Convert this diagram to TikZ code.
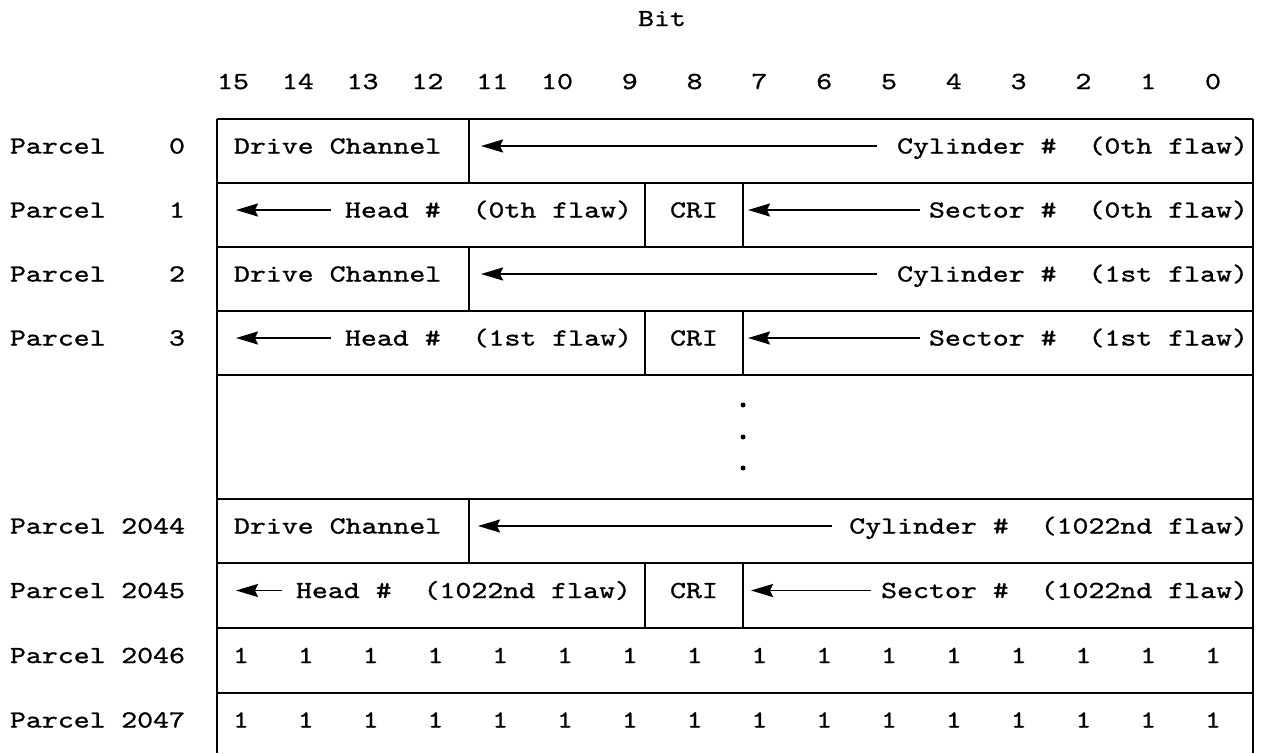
\documentclass[tikz,border=0pt]{standalone}
\usepackage{fontspec}
\newfontfamily\tw{lmmono10-regular.otf}[FakeStretch=1.24,FakeBold=1]
\usetikzlibrary{arrows.meta}

\begin{document}
\begin{tikzpicture}[x=1pt,y=-1pt,
  rule/.style={line width=1.8pt},
  txt/.style={font=\tw\fontsize{24.5}{28}\selectfont, inner sep=0pt, outer sep=0pt},
  lft/.style={txt, anchor=base west},
  rgt/.style={txt, anchor=base east},
  mid/.style={txt, anchor=base},
  arr/.style={line width=1.8pt, -{Stealth[length=22pt,width=13pt,inset=3pt]}},
  dot/.style={circle, fill=black, inner sep=0pt, minimum size=5pt}]

\useasboundingbox (0,0) rectangle (1262,753);

% heading
\node[mid] (bit) at (662,26) {Bit};
\foreach \n [count=\k from 0] in {15,14,...,0}
  \node[rgt] (h\n) at ({249+64.8*\k},89) {\n};

% table frame and row rules
\draw[rule] (217,119) -- (217,753) (1253,119) -- (1253,753);
\foreach \y in {119,183,247,311,375,499,563,628,693}
  \draw[rule] (217,\y) -- (1253,\y);

% field dividers
\foreach \a/\b in {119/183,247/311,499/563}
  \draw[rule] (469,\a) -- (469,\b);
\foreach \a/\b in {183/247,311/375,563/628}
  \draw[rule] (645,\a) -- (645,\b) (743,\a) -- (743,\b);

% parcel labels
\foreach \lab/\yb in {0/153.5,1/217.5,2/281.5,3/345.5,2044/533.5,2045/598,2046/663,2047/727.5}{
  \node[lft] (p\lab) at (10,\yb) {Parcel};
  \node[rgt] (n\lab) at (185,\yb) {\lab};
}

% parcel 0
\node[lft] (dc0) at (234,153.5) {Drive Channel};
\node[rgt] (cy0) at (1248,153.5) {Cylinder~\#~~(0th flaw)};
\coordinate (cy0t) at (877,146);
\coordinate (cy0h) at (481,146);
\draw[arr] (cy0t) -- (cy0h);

% parcel 1
\node[lft] (hd0) at (345,217.5) {Head~\#~~(0th flaw)};
\node[mid] (cri0) at (694,217.5) {CRI};
\node[rgt] (sc0) at (1248,217.5) {Sector~\#~~(0th flaw)};
\coordinate (hd0t) at (331,210);
\coordinate (hd0h) at (236,210);
\coordinate (sc0t) at (920,210);
\coordinate (sc0h) at (748,210);
\draw[arr] (hd0t) -- (hd0h);
\draw[arr] (sc0t) -- (sc0h);

% parcel 2
\node[lft] (dc1) at (234,281.5) {Drive Channel};
\node[rgt] (cy1) at (1248,281.5) {Cylinder~\#~~(1st flaw)};
\coordinate (cy1t) at (877,274);
\coordinate (cy1h) at (481,274);
\draw[arr] (cy1t) -- (cy1h);

% parcel 3
\node[lft] (hd1) at (345,345.5) {Head~\#~~(1st flaw)};
\node[mid] (cri1) at (694,345.5) {CRI};
\node[rgt] (sc1) at (1248,345.5) {Sector~\#~~(1st flaw)};
\coordinate (hd1t) at (331,338);
\coordinate (hd1h) at (236,338);
\coordinate (sc1t) at (920,338);
\coordinate (sc1h) at (748,338);
\draw[arr] (hd1t) -- (hd1h);
\draw[arr] (sc1t) -- (sc1h);

% elided parcels
\node[dot] (d1) at (743,405) {};
\node[dot] (d2) at (743,437) {};
\node[dot] (d3) at (743,468) {};

% parcel 2044
\node[lft] (dc2) at (234,533.5) {Drive Channel};
\node[rgt] (cy2) at (1248,533.5) {Cylinder~\#~~(1022nd flaw)};
\coordinate (cy2t) at (832,526);
\coordinate (cy2h) at (478,526);
\draw[arr] (cy2t) -- (cy2h);

% parcel 2045
\node[lft] (hd2) at (296,598) {Head~\#~~(1022nd flaw)};
\node[mid] (cri2) at (694,598) {CRI};
\node[rgt] (sc2) at (1248,598) {Sector~\#~~(1022nd flaw)};
\coordinate (hd2t) at (282,590.5);
\coordinate (hd2h) at (236,590.5);
\coordinate (sc2t) at (871,590.5);
\coordinate (sc2h) at (751,590.5);
\draw[arr] (hd2t) -- (hd2h);
\draw[arr] (sc2t) -- (sc2h);

% parcels 2046 and 2047: all ones
\foreach \k in {0,...,15}{
  \node[mid] (oa\k) at ({241+64.8*\k},663) {1};
  \node[mid] (ob\k) at ({241+64.8*\k},727.5) {1};
}
\end{tikzpicture}
\end{document}
